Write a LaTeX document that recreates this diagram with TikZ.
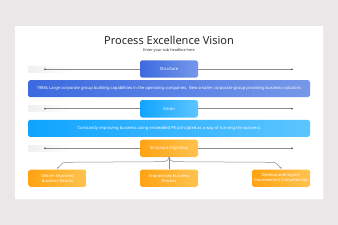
\documentclass[tikz,border=0pt]{standalone}
\usepackage{fontspec}
\setmainfont{Noto Sans}
\usetikzlibrary{calc}
\definecolor{bgc}{HTML}{E9E7E7}
\definecolor{blueL}{HTML}{3C6ADF}
\definecolor{blueR}{HTML}{7698EA}
\definecolor{skyL}{HTML}{10A4FF}
\definecolor{skyR}{HTML}{5CC5FF}
\definecolor{orL}{HTML}{FFA312}
\definecolor{orR}{HTML}{FFC350}
\definecolor{linec}{HTML}{8A8A8A}
\tikzset{
  tag/.style={rounded corners=1.8pt, minimum width=58pt, minimum height=17.4pt, inner sep=0pt, text=white, font=\fontsize{4}{5}\selectfont, align=center},
  head/.style={tag, font=\fontsize{4.2}{5}\selectfont\bfseries},
  bar/.style={rounded corners=1.8pt, minimum width=282pt, minimum height=17pt, inner sep=0pt, text=white, font=\fontsize{4.1}{5}\selectfont},
  bluefill/.style={left color=blueL, right color=blueR},
  skyfill/.style={left color=skyL, right color=skyR},
  orfill/.style={left color=orL, right color=orR},
  rule/.style={draw=linec, line width=0.5pt},
  dot/.style={circle, fill=black!75, inner sep=0pt, minimum size=1.8pt},
  band/.style={left color=black!6, right color=white, draw=none},
  brace/.style={draw=linec, line width=0.5pt}
}
\begin{document}
\begin{tikzpicture}[x=1pt,y=-1pt]
\fill[bgc] (0,0) rectangle (338,225);
\useasboundingbox (0,0) rectangle (338,225);
\fill[black!7] (15.5,26.8) rectangle (323.8,199.6);
\fill[white] (15,26) rectangle (323,199);
\node[font=\fontsize{11}{13}\selectfont, text=black!85] (title) at (169,40) {Process Excellence Vision};
\node[font=\fontsize{3.8}{5}\selectfont, text=black!80] (sub) at (169,51) {Enter your sub headline here};
% row 1
\fill[band] (28,66) rectangle (70,72);
\coordinate (l1a) at (45,69.3);
\coordinate (l1b) at (292,69.3);
\draw[rule] (l1a) -- (l1b);
\node[dot] at (l1a) {};
\node[dot] at (l1b) {};
\node[head, bluefill] (s1) at (169,69) {Structure};
\node[bar, bluefill] (bar1) at (169,88.7) {1980s Large corporate group building capabilities in the operating companies. New smaller corporate group providing business solutions};
% row 2
\fill[band] (28,105.5) rectangle (70,111.5);
\coordinate (l2a) at (45,108.7);
\coordinate (l2b) at (292,108.7);
\draw[rule] (l2a) -- (l2b);
\node[dot] at (l2a) {};
\node[dot] at (l2b) {};
\node[head, skyfill] (s2) at (169,108.8) {Vision};
\node[bar, skyfill] (bar2) at (169,128.3) {Constantly improving business using embedded PE principled as a way of running the business};
% row 3
\fill[band] (28,145.3) rectangle (70,151.3);
\coordinate (l3a) at (45,148.3);
\coordinate (l3b) at (292,148.3);
\draw[rule] (l3a) -- (l3b);
\node[dot] at (l3a) {};
\node[dot] at (l3b) {};
\node[head, orfill] (so) at (169,148.3) {Structure Objective};
% bottom boxes
\node[tag, orfill] (b1) at (57.5,178.2) {Deliver Improved\\Business Results};
\node[tag, orfill] (b2) at (169,178.2) {Improve key business\\Process};
\node[tag, orfill] (b3) at (281,178.2) {Develop and Ingrain\\Improvement Competencies};
% brace
\draw[brace] (b1.north) -- ++(0,-2) to[out=-90,in=180] ++(7,-5) -- ($(so.south)+(-7,4.5)$) to[out=0,in=-90] (so.south)
  to[out=-90,in=180] ($(so.south)+(7,4.5)$) -- ($(b3.north)+(-7,-7)$) to[out=0,in=-90] ($(b3.north)+(0,-2)$) -- (b3.north);
\draw[brace] (so.south) -- (b2.north);
\end{tikzpicture}
\end{document}
